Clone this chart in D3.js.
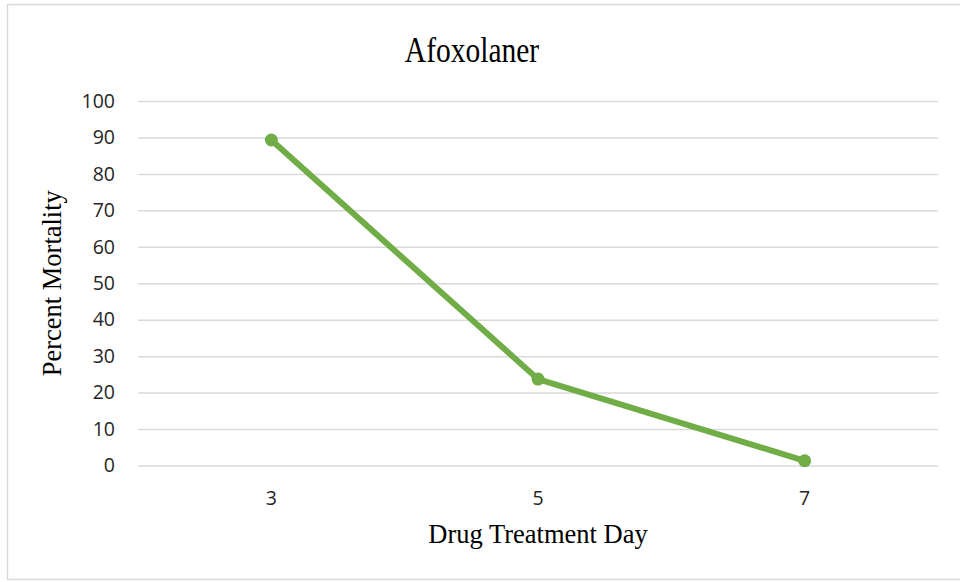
<!DOCTYPE html>
<html>
<head>
<meta charset="utf-8">
<script src="https://cdn.jsdelivr.net/npm/d3@7"></script>
<style>
  html, body { margin: 0; padding: 0; background: #fff; }
  svg { display: block; }
</style>
</head>
<body>
<svg id="chart" width="960" height="582"></svg>
<script>
// Afoxolaner mortality by drug treatment day
const days = ["3", "5", "7"];
const mortality = [89.3, 23.7, 1.3];
const yTicks = [0, 10, 20, 30, 40, 50, 60, 70, 80, 90, 100];

const svg = d3.select("#chart");
const plot = { left: 138, right: 938, top: 101, bottom: 465.5 };

// outer chart-area frame
svg.append("rect")
  .attr("x", 7.5).attr("y", 4.5)
  .attr("width", 970).attr("height", 575)
  .attr("fill", "#fff")
  .attr("stroke", "#d9d9d9").attr("stroke-width", 1.5);

const x = d3.scaleBand().domain(days).range([plot.left, plot.right]);
const y = d3.scaleLinear().domain([0, 100]).range([plot.bottom, plot.top]);

// horizontal gridlines + value labels
const yAxis = d3.axisLeft(y).tickValues(yTicks)
  .tickSize(-(plot.right - plot.left)).tickPadding(23);
const gy = svg.append("g").attr("transform", `translate(${plot.left},0)`).call(yAxis);
gy.select(".domain").remove();
gy.selectAll(".tick line").attr("stroke", "#d9d9d9").attr("stroke-width", 1.5);
gy.selectAll(".tick text")
  .attr("fill", "#262626")
  .style("font-family", "'Open Sans', sans-serif")
  .style("font-size", "19.5px");

// category labels
const xAxis = d3.axisBottom(x).tickSize(0).tickPadding(0);
const gx = svg.append("g").attr("transform", `translate(0,${plot.bottom})`).call(xAxis);
gx.select(".domain").remove();
gx.selectAll(".tick text")
  .attr("dy", null).attr("y", 39.5)
  .attr("fill", "#262626")
  .style("font-family", "'Open Sans', sans-serif")
  .style("font-size", "19.5px");

// series
const pts = days.map((d, i) => [x(d) + x.bandwidth() / 2, y(mortality[i])]);
svg.append("path")
  .attr("d", d3.line()(pts))
  .attr("fill", "none")
  .attr("stroke", "#70ad47")
  .attr("stroke-width", 6)
  .attr("stroke-linejoin", "round")
  .attr("stroke-linecap", "round");
svg.selectAll("circle.pt").data(pts).join("circle")
  .attr("class", "pt")
  .attr("cx", d => d[0]).attr("cy", d => d[1])
  .attr("r", 6.5)
  .attr("fill", "#70ad47");

// titles
const serif = "'Liberation Serif', 'Times New Roman', serif";
svg.append("text")
  .attr("transform", "translate(472,62) scale(0.82,1)")
  .attr("text-anchor", "middle")
  .attr("fill", "#000")
  .style("font-family", serif).style("font-size", "36px")
  .text("Afoxolaner");
svg.append("text")
  .attr("x", 538).attr("y", 543)
  .attr("text-anchor", "middle")
  .attr("fill", "#000")
  .style("font-family", serif).style("font-size", "26.5px")
  .text("Drug Treatment Day");
svg.append("text")
  .attr("transform", `translate(61,${(plot.top + plot.bottom) / 2}) rotate(-90)`)
  .attr("text-anchor", "middle")
  .attr("fill", "#000")
  .style("font-family", serif).style("font-size", "26.5px")
  .text("Percent Mortality");
</script>
</body>
</html>
